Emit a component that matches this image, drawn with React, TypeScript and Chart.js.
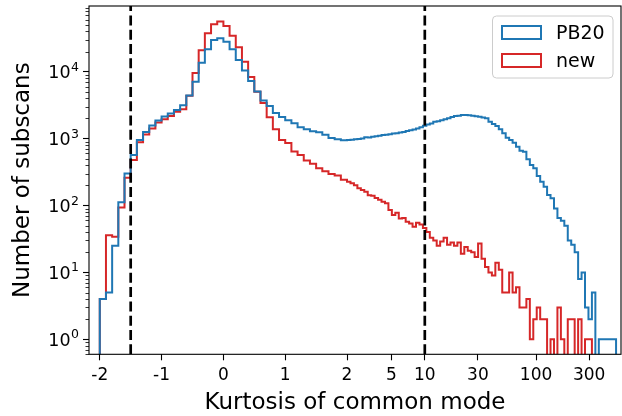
import React, { useEffect, useRef } from 'react';
import { Chart, registerables } from 'chart.js';

Chart.register(...registerables);

// ---------- axis transform (matplotlib-like symlog, linthresh 2, linscale 1) ----------
const LIN_THRESH = 2;
const LIN_SCALE_ADJ = 1 / (1 - 1 / 10);
function symlog(x: number): number {
  const a = Math.abs(x);
  if (a <= LIN_THRESH) return x * LIN_SCALE_ADJ;
  return Math.sign(x) * LIN_THRESH * (LIN_SCALE_ADJ + Math.log10(a / LIN_THRESH));
}

// ---------- bins ----------
const LIN_BIN_START = -2;
const LIN_BIN_WIDTH = 0.1; // linear part, -2 .. 2
const N_LIN_BINS = 40;
const LOG_BIN_DECADES = 0.031; // log part, 2 .. ~530
const N_LOG_BINS = 78;
const BIN_EDGES: number[] = [
  ...Array.from({ length: N_LIN_BINS }, (_, i) => LIN_BIN_START + i * LIN_BIN_WIDTH),
  ...Array.from({ length: N_LOG_BINS + 1 }, (_, k) => LIN_THRESH * Math.pow(10, k * LOG_BIN_DECADES)),
];

// ---------- counts ----------
const PB20_LIN = [
  4, 5, 25, 112, 300, 570, 950, 1260, 1570, 1860,
  2130, 2370, 2680, 3150, 4400, 7100, 13600, 21600, 29700, 31600,
  28100, 21600, 15000, 10400, 7250, 5050, 3720, 3070, 2410, 2100,
  1880, 1700, 1480, 1380, 1290, 1240, 1140, 1020, 980, 945,
];
const PB20_LOG = [
  950, 960, 975, 990, 1000, 1045, 1040, 1070, 1080, 1100,
  1130, 1140, 1160, 1190, 1200, 1230, 1260, 1300, 1330, 1370,
  1420, 1480, 1560, 1620, 1680, 1780, 1820, 1880, 1940, 2020,
  2100, 2170, 2200, 2250, 2250, 2230, 2200, 2150, 2125, 2060,
  2010, 1790, 1650, 1540, 1375, 1200, 1030, 953, 869, 757,
  660, 634, 490, 403, 360, 276, 227, 190, 144, 128,
  90, 65, 59, 50, 30, 26, 20, 8, 10, 3,
  2, 5, 0, 1, 1, 1, 1, 1,
];
const NEW_LIN = [
  4, 36, 34, 93, 260, 480, 880, 1150, 1420, 1740,
  1950, 2170, 2510, 2750, 4370, 9530, 21000, 37400, 51000, 56300,
  48000, 34500, 23100, 14100, 8300, 5000, 3390, 2090, 1380, 955,
  860, 640, 570, 470, 420, 360, 325, 295, 280, 243,
];
const NEW_LOG = [
  227, 215, 200, 181, 170, 161, 142, 140, 129, 122,
  114, 108, 86, 72, 78, 64, 65, 57, 54, 48,
  55, 52, 46, 40, 33, 30, 25, 29, 33, 26,
  28, 25, 28, 19, 24, 21, 20, 17, 27, 16,
  12, 10, 9, 14, 11, 5, 5, 10, 5, 6,
  3, 3, 4, 1, 2, 3, 2, 2, 0, 1,
  0, 3, 1, 0, 2, 2, 0, 2, 0, 1,
  1, 0, 0, 0, 0, 0, 0, 0,
];
const PB20_COUNTS = [...PB20_LIN, ...PB20_LOG];
const NEW_COUNTS = [...NEW_LIN, ...NEW_LOG];

const SERIES_LABELS = ['PB20', 'new'];
const SERIES_COLORS = ['#1f77b4', '#d62728'];

// ---------- axes ----------
const X_TICKS = [-2, -1, 0, 1, 2, 5, 10, 30, 100, 300];
const X_TICK_LABELS = ['-2', '-1', '0', '1', '2', '5', '10', '30', '100', '300'];
const X_LIMITS = [-2.5, 580];
const Y_MAJOR = [1, 10, 100, 1000, 10000];
const Y_EXPONENTS = ['0', '1', '2', '3', '4'];
const Y_LIMITS = [0.597, 95900];
const V_LINES = [-1.5, 10];
const X_TITLE = 'Kurtosis of common mode';
const Y_TITLE = 'Number of subscans';

const FONT = "'DejaVu Sans', sans-serif";
const FLOOR = 1e-3; // empty bins drop below the axis (clipped), as on a log axis
const AREA = { left: 89, top: 6, right: 621, bottom: 354.3 };

function stepPoints(counts: number[]) {
  const pts: { x: number; y: number }[] = [];
  const v = (c: number) => (c > 0 ? c : FLOOR);
  pts.push({ x: symlog(BIN_EDGES[0]), y: FLOOR });
  counts.forEach((c, i) => pts.push({ x: symlog(BIN_EDGES[i]), y: v(c) }));
  const end = symlog(BIN_EDGES[counts.length]);
  pts.push({ x: end, y: v(counts[counts.length - 1]) });
  pts.push({ x: end, y: FLOOR });
  return pts;
}

const decorPlugin = {
  id: 'decor',
  afterDatasetsDraw(chart: any) {
    const { ctx, chartArea, scales } = chart;
    const { left, right, top, bottom } = chartArea;
    ctx.save();
    ctx.beginPath();
    ctx.rect(left, top, right - left, bottom - top);
    ctx.clip();
    ctx.strokeStyle = '#000';
    ctx.lineWidth = 2.7;
    ctx.setLineDash([10, 4.3]);
    for (const v of V_LINES) {
      const px = scales.x.getPixelForValue(symlog(v));
      ctx.beginPath();
      ctx.moveTo(px, bottom);
      ctx.lineTo(px, top);
      ctx.stroke();
    }
    ctx.restore();
  },
  afterDraw(chart: any) {
    const { ctx, chartArea, scales } = chart;
    const { left, right, top, bottom } = chartArea;
    ctx.save();
    // minor y ticks
    ctx.strokeStyle = '#000';
    ctx.lineWidth = 0.8;
    const [ymin, ymax] = Y_LIMITS;
    for (let d = -1; d <= 4; d++) {
      for (let m = 2; m <= 9; m++) {
        const val = m * Math.pow(10, d);
        if (val < ymin || val > ymax) continue;
        const py = Math.round(scales.y.getPixelForValue(val)) + 0.5;
        ctx.beginPath();
        ctx.moveTo(left - 3.5, py);
        ctx.lineTo(left, py);
        ctx.stroke();
      }
    }
    // y tick labels: 10 with superscript exponent
    ctx.fillStyle = '#000';
    ctx.textBaseline = 'alphabetic';
    Y_MAJOR.forEach((v, i) => {
      const py = scales.y.getPixelForValue(v);
      const right0 = left - 6 - 4;
      ctx.font = `12.5px ${FONT}`;
      ctx.textAlign = 'right';
      const ew = ctx.measureText(Y_EXPONENTS[i]).width;
      ctx.fillText(Y_EXPONENTS[i], right0, py - 1);
      ctx.font = `17.5px ${FONT}`;
      ctx.fillText('10', right0 - ew - 0.5, py + 6.5);
    });
    // frame
    ctx.lineWidth = 1.1;
    ctx.strokeRect(left, top, right - left, bottom - top);

    // legend
    const bx = 492.5, by = 16, bw = 120.5, bh = 62, r = 4;
    ctx.beginPath();
    ctx.moveTo(bx + r, by);
    ctx.lineTo(bx + bw - r, by);
    ctx.arcTo(bx + bw, by, bx + bw, by + r, r);
    ctx.lineTo(bx + bw, by + bh - r);
    ctx.arcTo(bx + bw, by + bh, bx + bw - r, by + bh, r);
    ctx.lineTo(bx + r, by + bh);
    ctx.arcTo(bx, by + bh, bx, by + bh - r, r);
    ctx.lineTo(bx, by + r);
    ctx.arcTo(bx, by, bx + r, by, r);
    ctx.closePath();
    ctx.fillStyle = 'rgba(255,255,255,0.8)';
    ctx.fill();
    ctx.strokeStyle = '#cccccc';
    ctx.lineWidth = 1;
    ctx.stroke();
    ctx.font = `19px ${FONT}`;
    ctx.textBaseline = 'alphabetic';
    ctx.textAlign = 'left';
    SERIES_LABELS.forEach((lab, i) => {
      const rowY = 26 + i * 28;
      ctx.strokeStyle = SERIES_COLORS[i];
      ctx.lineWidth = 2;
      ctx.strokeRect(502, rowY, 39, 13);
      ctx.fillStyle = '#000';
      ctx.fillText(lab, 556, rowY + 13);
    });
    ctx.restore();
  },
};

export default function App() {
  const ref = useRef<HTMLCanvasElement>(null);
  useEffect(() => {
    document.body.style.margin = '0';
    const tickFont = { family: FONT, size: 17 };
    const titleFont = { family: FONT, size: 23 };
    const grid = {
      display: true,
      drawOnChartArea: false,
      drawTicks: true,
      tickLength: 6,
      tickColor: '#000',
      tickWidth: 1.1,
    };
    const noPad = (s: any) => {
      s.paddingTop = 0;
      s.paddingBottom = 0;
      s.paddingLeft = 0;
      s.paddingRight = 0;
    };
    const chart = new Chart(ref.current as HTMLCanvasElement, {
      type: 'line',
      data: {
        datasets: [PB20_COUNTS, NEW_COUNTS].map((counts, i) => ({
          label: SERIES_LABELS[i],
          data: stepPoints(counts),
          borderColor: SERIES_COLORS[i],
          backgroundColor: SERIES_COLORS[i],
          borderWidth: 2,
          pointRadius: 0,
          stepped: 'before' as const,
          fill: false,
          clip: 0,
        })),
      },
      options: {
        animation: false,
        responsive: false,
        devicePixelRatio: 1,
        layout: { padding: { top: AREA.top, right: 622 - AREA.right, left: 0, bottom: 0 } },
        plugins: { legend: { display: false }, tooltip: { enabled: false } },
        scales: {
          x: {
            type: 'linear',
            min: symlog(X_LIMITS[0]),
            max: symlog(X_LIMITS[1]),
            bounds: 'data',
            afterBuildTicks: (s: any) => {
              s.ticks = X_TICKS.map((v) => ({ value: symlog(v) }));
            },
            ticks: {
              callback: (_v: any, i: number) => X_TICK_LABELS[i],
              autoSkip: false,
              maxRotation: 0,
              minRotation: 0,
              padding: 5,
              font: tickFont,
              color: '#000',
            },
            grid,
            border: { display: false },
            title: { display: true, text: X_TITLE, font: titleFont, color: '#000', padding: { top: 0, bottom: -1 } },
            afterFit: (s: any) => {
              s.height = 416 - AREA.bottom;
              noPad(s);
            },
          },
          y: {
            type: 'logarithmic',
            min: Y_LIMITS[0],
            max: Y_LIMITS[1],
            bounds: 'data',
            afterBuildTicks: (s: any) => {
              s.ticks = Y_MAJOR.map((v) => ({ value: v }));
            },
            ticks: {
              callback: () => '',
              autoSkip: false,
              padding: 4,
              font: tickFont,
              color: '#000',
            },
            grid,
            border: { display: false },
            title: { display: true, text: Y_TITLE, font: titleFont, color: '#000', padding: { top: 9, bottom: 0 } },
            afterFit: (s: any) => {
              s.width = AREA.left;
              noPad(s);
            },
          },
        },
      },
      plugins: [decorPlugin],
    } as any);
    return () => chart.destroy();
  }, []);
  return (
    <div style={{ width: 622, height: 416, position: 'relative' }}>
      <canvas ref={ref} width={622} height={416} style={{ display: 'block', width: 622, height: 416 }} />
    </div>
  );
}
